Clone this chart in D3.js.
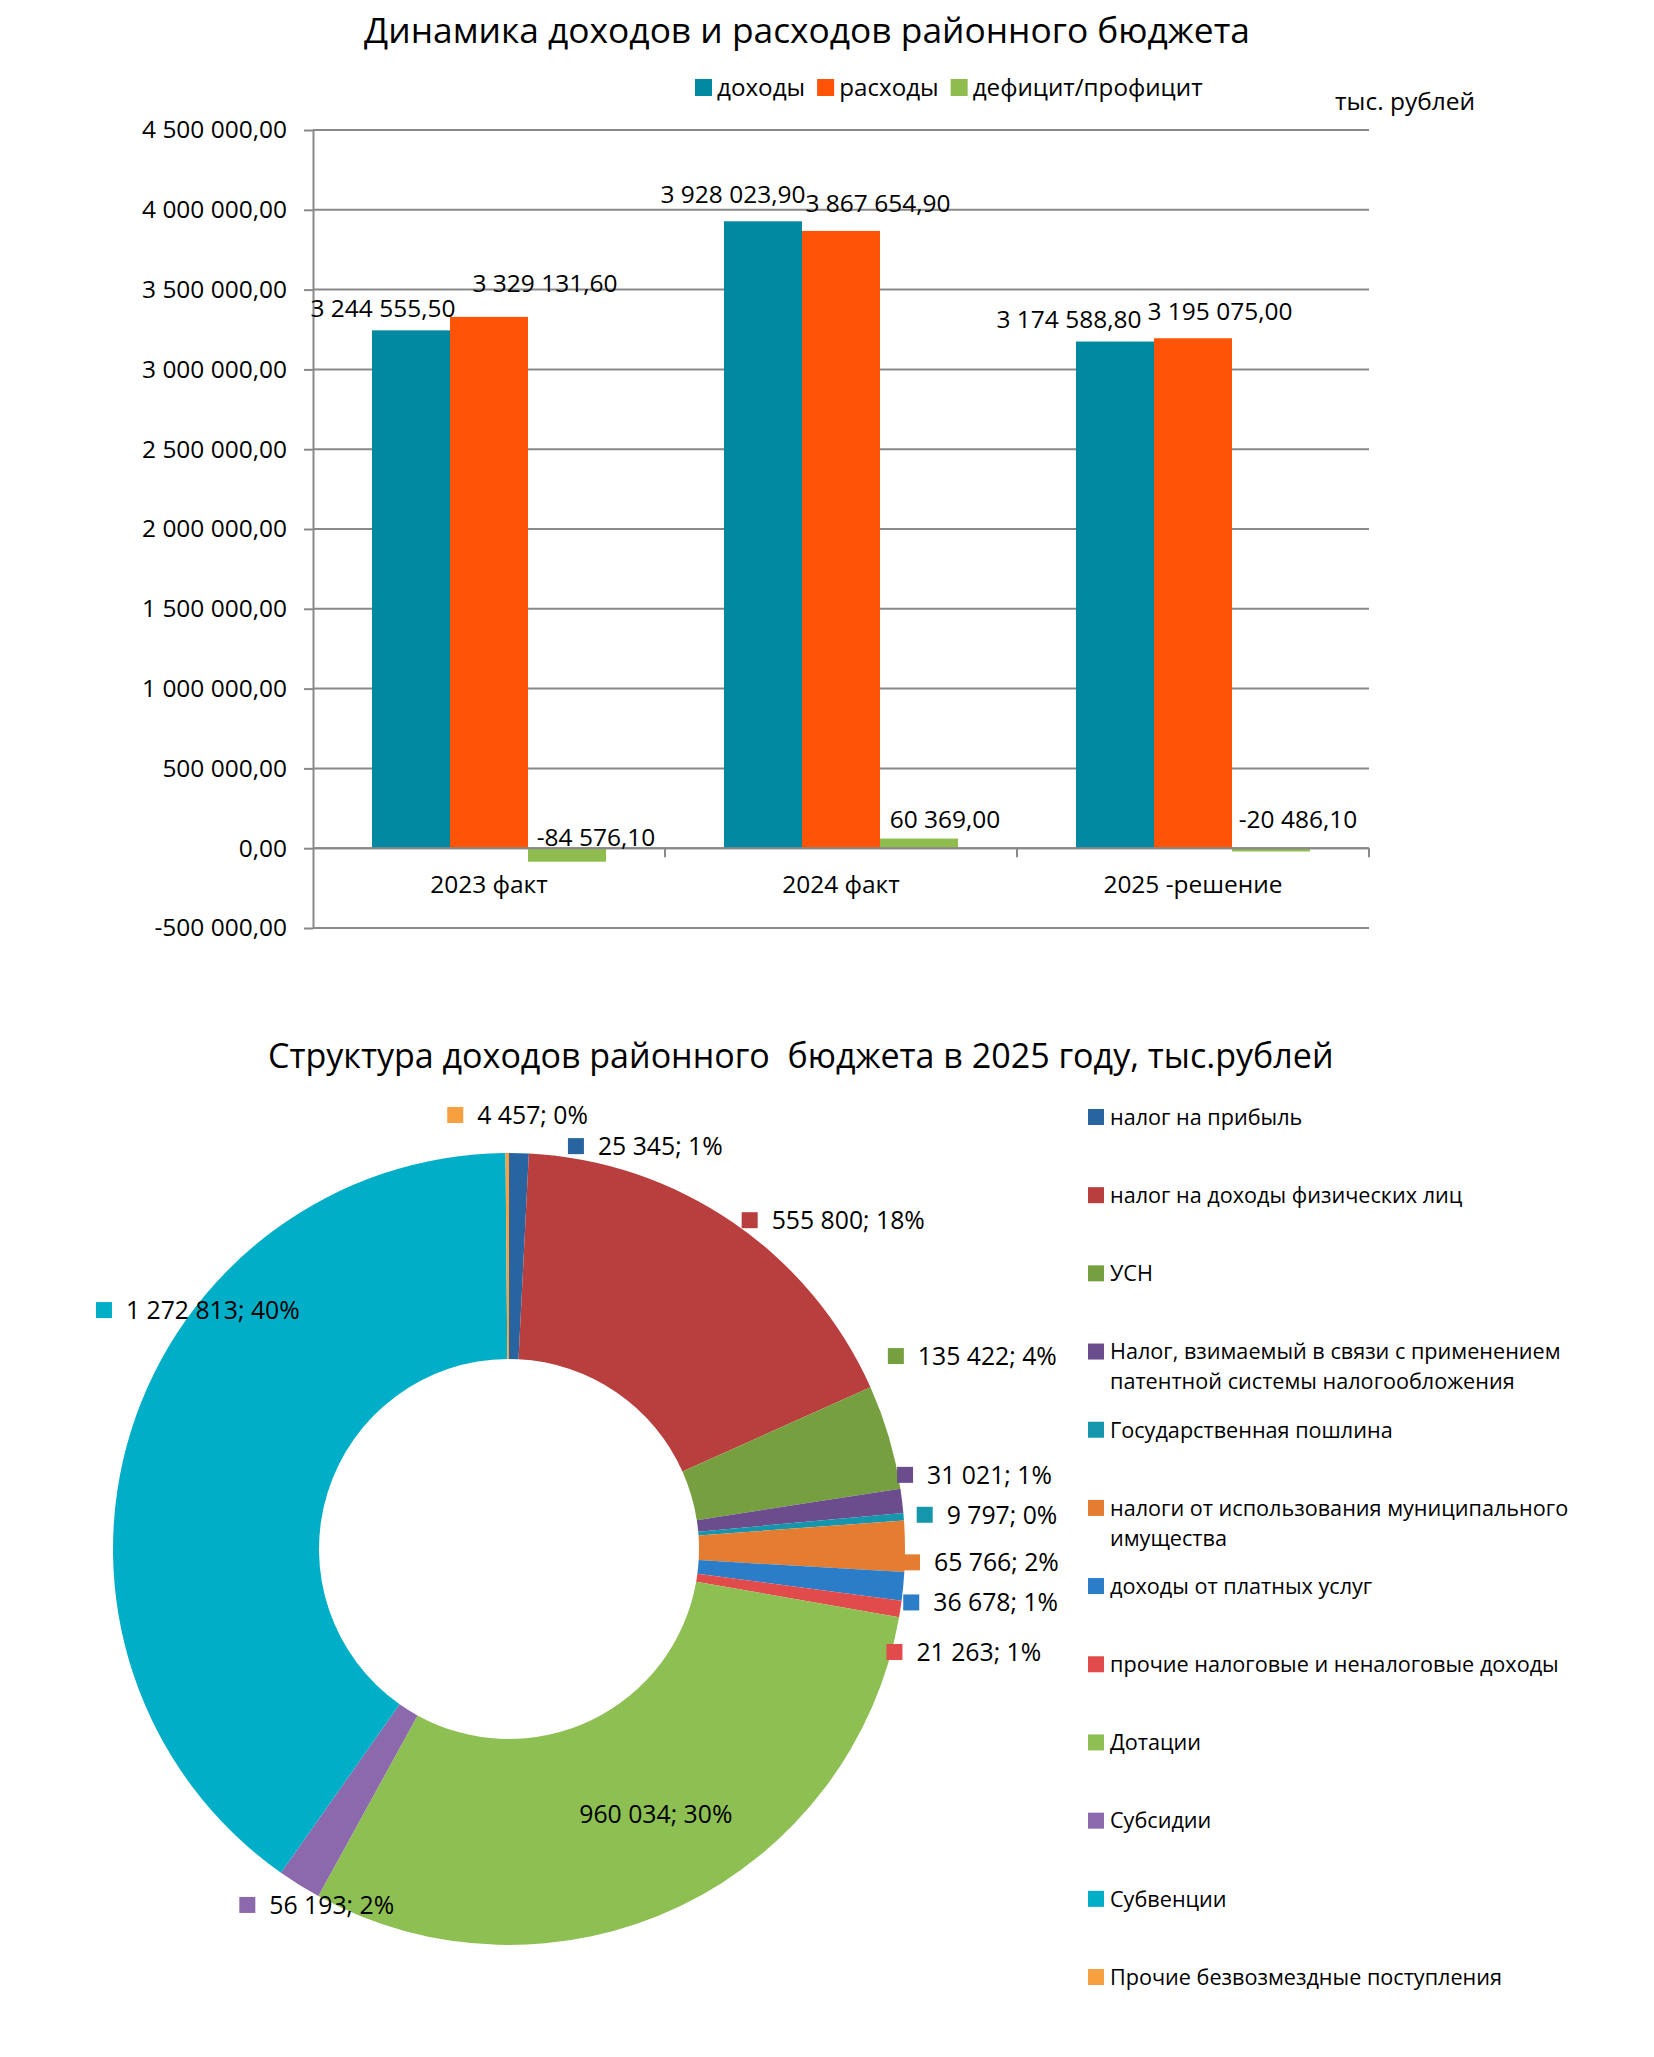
<!DOCTYPE html>
<html><head><meta charset="utf-8">
<script src="https://cdn.jsdelivr.net/npm/d3@7/dist/d3.min.js"></script>
<style>
html,body{margin:0;padding:0;background:#fff;}
svg text{font-family:"Open Sans",sans-serif;fill:#000;}
</style></head><body>
<svg id="c" width="1654" height="2057"></svg>
<script>
// ---------- DATA ----------
const barCategories = ["2023 факт", "2024 факт", "2025 -решение"];
const barSeries = ["доходы", "расходы", "дефицит/профицит"];
const incomeValues = [3244555.5, 3928023.9, 3174588.8];
const expenseValues = [3329131.6, 3867654.9, 3195075.0];
const balanceValues = [-84576.1, 60369.0, -20486.1];
const yTickValues = [-500000, 0, 500000, 1000000, 1500000, 2000000, 2500000, 3000000, 3500000, 4000000, 4500000];

const pieCategories = [
  "налог на прибыль",
  "налог на доходы физических лиц",
  "УСН",
  "Налог, взимаемый в связи с применением патентной системы налогообложения",
  "Государственная пошлина",
  "налоги от использования муниципального имущества",
  "доходы от платных услуг",
  "прочие налоговые и неналоговые доходы",
  "Дотации",
  "Субсидии",
  "Субвенции",
  "Прочие безвозмездные поступления"
];
const pieValues = [25345, 555800, 135422, 31021, 9797, 65766, 36678, 21263, 960034, 56193, 1272813, 4457];

// ---------- STYLE / LAYOUT ----------
const barColors = ["#0089a0", "#ff5308", "#8fbc4f"];
const pieColors = ["#2764a0", "#b93e3e", "#76a040", "#6b4c8c", "#1596ac", "#e47d32",
                   "#2b7dc8", "#e24b4b", "#8dbf52", "#8c68ac", "#00aec8", "#f8a040"];
const gridColor = "#898989";
// data-label nudges for bar labels [dx, dy] (series x category)
const barLabelShift = [
  [[-28, -13], [-30, -18], [-46, -14]],
  [[56, -25], [37, -19], [27, -18]],
  [[29, -2], [26, -11], [27, -20]]
];
// pie label nudges from the slice's outer mid point [dx, dy]
const pieLabelShift = [[49, -7], [9, -2], [-1, -81], [-5, -26], [13, -2], [-1, 16],
                       [0, 16], [-14, 43], [20, 1], [-60, 20], [-35, -121], [-60, -38]];

const svg = d3.select("#c");
const meas = svg.append("text").attr("x", -9999).attr("y", -9999).style("white-space", "pre");
function textW(str, size) { meas.attr("font-size", size).text(str); return meas.node().getComputedTextLength(); }
function fitSize(str, w) { return 100 * w / textW(str, 100); }

const loc = d3.formatLocale({decimal: ",", thousands: " ", grouping: [3], currency: ["", ""], minus: "-"});
const f2 = loc.format(",.2f");
const f0 = loc.format(",.0f");

// ================= BAR CHART =================
const B = {left: 313, right: 1369, top: 130, bottom: 928};
const y = d3.scaleLinear().domain([d3.min(yTickValues), d3.max(yTickValues)]).range([B.bottom, B.top]);
const x0 = d3.scaleBand().domain(barCategories).range([B.left, B.right]).paddingInner(0).paddingOuter(0);
const x1 = d3.scaleBand().domain(barSeries).range([0, x0.bandwidth()]).paddingInner(0).paddingOuter(0.756);
const seriesValues = [incomeValues, expenseValues, balanceValues];

const tickFont = fitSize("4 500 000,00", 145);

// title
const t1Size = fitSize("Динамика доходов и расходов районного бюджета", 886);
svg.append("text").attr("x", 807).attr("y", 43).attr("text-anchor", "middle")
  .attr("font-size", t1Size).text("Динамика доходов и расходов районного бюджета");

// gridlines
svg.append("g").selectAll("line").data(yTickValues).join("line")
  .attr("x1", B.left).attr("x2", B.right)
  .attr("y1", d => y(d)).attr("y2", d => y(d))
  .attr("stroke", gridColor).attr("stroke-width", 2);

// y axis
const yAxis = svg.append("g").attr("transform", `translate(${B.left},0)`)
  .call(d3.axisLeft(y).tickValues(yTickValues).tickSize(9).tickSizeOuter(0).tickPadding(17).tickFormat(f2));
yAxis.select(".domain").attr("stroke", gridColor).attr("stroke-width", 2);
yAxis.selectAll(".tick line").attr("stroke", gridColor).attr("stroke-width", 2);
yAxis.selectAll(".tick text").attr("font-size", tickFont).attr("font-family", "Open Sans").attr("fill", "#000");

// bars
barSeries.forEach((s, si) => {
  svg.append("g").selectAll("rect").data(seriesValues[si]).join("rect")
    .attr("x", (d, i) => x0(barCategories[i]) + x1(s))
    .attr("width", x1.bandwidth())
    .attr("y", d => Math.min(y(d), y(0)))
    .attr("height", d => Math.abs(y(d) - y(0)))
    .attr("fill", barColors[si]);
});

// category axis at zero
svg.append("line").attr("x1", B.left).attr("x2", B.right).attr("y1", y(0)).attr("y2", y(0))
  .attr("stroke", gridColor).attr("stroke-width", 2);
svg.append("g").selectAll("line").data(barCategories).join("line")
  .attr("x1", d => x0(d) + x0.bandwidth()).attr("x2", d => x0(d) + x0.bandwidth())
  .attr("y1", y(0)).attr("y2", y(0) + 9)
  .attr("stroke", gridColor).attr("stroke-width", 2);
svg.append("g").selectAll("text").data(barCategories).join("text")
  .attr("x", d => x0(d) + x0.bandwidth() / 2).attr("y", y(0) + 45)
  .attr("text-anchor", "middle").attr("font-size", tickFont).text(d => d);

// data labels
barSeries.forEach((s, si) => {
  svg.append("g").selectAll("text").data(seriesValues[si]).join("text")
    .attr("x", (d, i) => x0(barCategories[i]) + x1(s) + x1.bandwidth() / 2 + barLabelShift[si][i][0])
    .attr("y", (d, i) => Math.min(y(d), y(0)) + barLabelShift[si][i][1])
    .attr("text-anchor", "middle").attr("font-size", tickFont).text(d => f2(d));
});

// legend
const legSize = fitSize("дефицит/профицит", 230);
let lx = 695;
barSeries.forEach((s, si) => {
  svg.append("rect").attr("x", lx).attr("y", 79).attr("width", 17).attr("height", 17).attr("fill", barColors[si]);
  svg.append("text").attr("x", lx + 22).attr("y", 87 + legSize * 0.36).attr("font-size", legSize).text(s);
  lx += 22 + textW(s, legSize) + 12;
});
const unitSize = fitSize("тыс. рублей", 140);
svg.append("text").attr("x", 1475).attr("y", 110).attr("text-anchor", "end").attr("font-size", unitSize).text("тыс. рублей");

// ================= DONUT =================
const P = {cx: 509, cy: 1549, R: 396, r: 190};
const pieTitle = "Структура доходов районного  бюджета в 2025 году, тыс.рублей";
const t2Size = fitSize(pieTitle, 1066);
svg.append("text").attr("x", 268).attr("y", 1068).attr("font-size", t2Size)
  .style("white-space", "pre").text(pieTitle);

const total = d3.sum(pieValues);
const arcs = d3.pie().sort(null).value(d => d)(pieValues);
const arcGen = d3.arc().innerRadius(P.r).outerRadius(P.R);
const gPie = svg.append("g").attr("transform", `translate(${P.cx},${P.cy})`);
gPie.selectAll("path").data(arcs).join("path").attr("d", arcGen).attr("fill", (d, i) => pieColors[i]);

const pieLabelSize = fitSize("135 422; 4%", 139);
const insideIndex = pieCategories.indexOf("Дотации");
arcs.forEach((a, i) => {
  const mid = (a.startAngle + a.endAngle) / 2;
  const label = f0(a.data) + "; " + Math.round(a.data / total * 100) + "%";
  if (i === insideIndex) {
    const c = arcGen.centroid(a);
    svg.append("text").attr("x", P.cx + c[0] + pieLabelShift[i][0])
      .attr("y", P.cy + c[1] + pieLabelShift[i][1] + pieLabelSize * 0.36)
      .attr("text-anchor", "middle").attr("font-size", pieLabelSize).text(label);
  } else {
    const px = P.cx + P.R * Math.sin(mid) + pieLabelShift[i][0];
    const py = P.cy - P.R * Math.cos(mid) + pieLabelShift[i][1];
    svg.append("rect").attr("x", px).attr("y", py - 8).attr("width", 16).attr("height", 16).attr("fill", pieColors[i]);
    svg.append("text").attr("x", px + 30).attr("y", py + pieLabelSize * 0.36)
      .attr("font-size", pieLabelSize).text(label);
  }
});

// pie legend
const pLegSize = fitSize("Налог, взимаемый в связи с применением", 451);
const legY = d3.scalePoint().domain(pieCategories).range([1117, 1977]);
function wrap(str, maxW, size) {
  const words = str.split(" "); const lines = []; let cur = "";
  words.forEach(w => {
    const t = cur ? cur + " " + w : w;
    if (textW(t, size) > maxW && cur) { lines.push(cur); cur = w; } else cur = t;
  });
  lines.push(cur); return lines;
}
pieCategories.forEach((c, i) => {
  const yy = legY(c);
  svg.append("rect").attr("x", 1088).attr("y", yy - 8).attr("width", 16).attr("height", 16).attr("fill", pieColors[i]);
  const lines = wrap(c, 500, pLegSize);
  const t = svg.append("text").attr("font-size", pLegSize);
  lines.forEach((ln, li) => t.append("tspan").attr("x", 1110).attr("y", yy + pLegSize * 0.36 + li * 30).text(ln));
});
meas.remove();
</script>
</body></html>
